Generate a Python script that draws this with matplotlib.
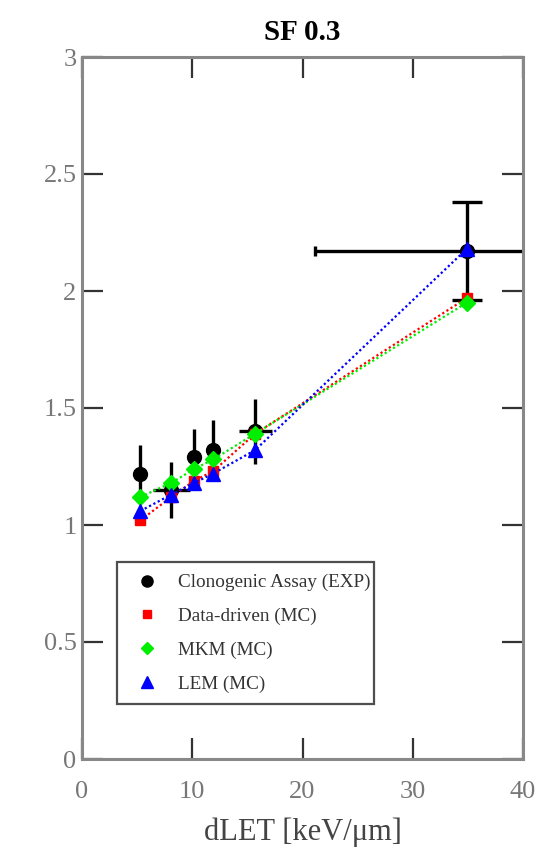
import matplotlib
matplotlib.use("Agg")
import matplotlib.pyplot as plt
import numpy as np

plt.rcParams['font.family'] = ['Liberation Serif', 'DejaVu Serif']

# dose-averaged LET of the six beam conditions
dlet = [5.3, 8.1, 10.2, 11.9, 15.7, 34.9]
dlet_err = [0.0, 1.7, 0.0, 0.0, 1.5, 13.8]

# measured RBE (clonogenic assay)
rbe_exp = [1.22, 1.15, 1.29, 1.32, 1.40, 2.17]
rbe_exp_err = [0.12, 0.12, 0.12, 0.13, 0.14, 0.21]

# Monte Carlo model predictions
rbe_dd = [1.02, 1.12, 1.19, 1.23, 1.39, 1.97]
rbe_mkm = [1.12, 1.18, 1.24, 1.28, 1.39, 1.95]
rbe_lem = [1.06, 1.13, 1.18, 1.22, 1.32, 2.18]

title = "SF 0.3"
labels = ["Clonogenic Assay (EXP)", "Data-driven (MC)", "MKM (MC)", "LEM (MC)"]

fig = plt.figure(figsize=(5.39, 8.48), dpi=100)
ax = fig.add_axes([82/539, 1-759/848, 441/539, 702/848])

# experimental points: y error bars, then x error bars
ax.errorbar(dlet[:-1], rbe_exp[:-1], yerr=rbe_exp_err[:-1], xerr=dlet_err[:-1],
            fmt='o', color='black', ms=10, elinewidth=2.4, capsize=0, zorder=2)
ax.errorbar(dlet[-1:], rbe_exp[-1:], yerr=rbe_exp_err[-1:], fmt='o', color='black',
            ms=10, elinewidth=2.4, capsize=11, capthick=2.4, zorder=2)
ax.errorbar(dlet[-1:], rbe_exp[-1:], xerr=dlet_err[-1:], fmt='none', ecolor='black',
            elinewidth=2.4, capsize=3.5, capthick=2.4, zorder=2)

ax.plot(dlet, rbe_dd, ls=(0, (1, 1.2)), lw=1.6, color='#ff0000', marker='s', ms=7,
        zorder=3)
ax.plot(dlet, rbe_mkm, ls=(0, (1, 1.2)), lw=1.6, color='#00ee00', marker='D', ms=8,
        zorder=4)
ax.plot(dlet, rbe_lem, ls=(0, (1, 1.2)), lw=1.6, color='#0000ff', marker='^', ms=10,
        zorder=5)

ax.set_xlim(0, 40)
ax.set_ylim(0, 3)
ax.set_xticks([0, 10, 20, 30, 40])
ax.set_yticks([0, 0.5, 1, 1.5, 2, 2.5, 3])
ax.set_yticklabels(["0", "0.5", "1", "1.5", "2", "2.5", "3"])
ax.tick_params(direction='in', length=15, width=1.6, color='#333333',
               top=True, right=True, labelsize=19, labelcolor='#777777')
ax.tick_params(axis='y', pad=4)
ax.tick_params(axis='x', pad=16)
for s in ax.spines.values():
    s.set_color('#888888')
    s.set_linewidth(2.2)

ax.set_xlabel("dLET [keV/\u03bcm]", fontsize=22, color='#444444', labelpad=10)
ax.set_title(title, fontsize=21, fontweight='bold', pad=12)

# legend with markers only
h = [
    plt.Line2D([], [], ls='none', marker='o', color='black', ms=8),
    plt.Line2D([], [], ls='none', marker='s', color='#ff0000', ms=6),
    plt.Line2D([], [], ls='none', marker='D', color='#00ee00', ms=6),
    plt.Line2D([], [], ls='none', marker='^', color='#0000ff', ms=8),
]
leg = ax.legend(h, labels, loc='lower left', bbox_to_anchor=(0.079, 0.078, 0.583, 0.201),
                mode='expand', fontsize=13.8, frameon=True, fancybox=False,
                borderaxespad=0, handlelength=1.9, handletextpad=0.7,
                labelspacing=0.85, borderpad=0.6)
leg.get_frame().set_edgecolor('#222222')
leg.get_frame().set_linewidth(1.6)
for t in leg.get_texts():
    t.set_color('#333333')

fig.savefig("out.png", dpi=100)
